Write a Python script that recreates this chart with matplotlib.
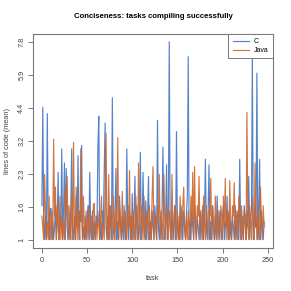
import numpy as np
import matplotlib
matplotlib.use('Agg')
import matplotlib.pyplot as plt

plt.rcParams['font.family'] = ['Liberation Sans', 'DejaVu Sans']

# Data: mean lines of code per task
c_loc = [
    1.6, 4.45, 1.3, 1.0, 1.4, 1.0, 4.2, 1.2, 1.0, 1.5,
    1.55, 1.0, 1.3, 1.0, 1.2, 1.6, 1.0, 1.3, 2.35, 1.0,
    1.4, 1.2, 3.0, 1.0, 1.5, 2.6, 1.0, 2.45, 1.2, 1.0,
    1.3, 1.0, 1.6, 3.0, 1.2, 1.0, 1.4, 1.0, 1.8, 1.2,
    2.8, 1.0, 1.5, 1.3, 3.1, 1.0, 1.2, 1.0, 1.4, 1.0,
    1.3, 1.6, 1.0, 2.35, 1.2, 1.0, 1.5, 1.0, 1.3, 1.0,
    1.4, 1.2, 3.05, 4.1, 1.0, 1.3, 1.0, 1.5, 1.2, 2.4,
    3.85, 1.2, 1.0, 1.4, 1.0, 1.6, 1.3, 1.0, 4.85, 1.2,
    1.0, 1.5, 2.45, 1.0, 1.3, 1.0, 1.8, 1.2, 1.0, 1.4,
    1.0, 1.6, 1.2, 1.0, 3.0, 1.3, 1.0, 1.5, 1.2, 1.0,
    1.85, 1.0, 1.4, 2.25, 1.0, 1.6, 1.2, 1.0, 1.5, 2.9,
    1.0, 1.3, 2.35, 1.2, 1.0, 1.7, 1.0, 1.4, 2.25, 1.0,
    1.3, 1.0, 1.5, 1.2, 1.0, 1.6, 1.3, 1.0, 3.95, 1.2,
    1.0, 1.4, 1.0, 1.5, 3.05, 1.2, 1.0, 1.3, 2.55, 1.0,
    1.4, 7.8, 1.2, 1.0, 1.5, 1.0, 1.3, 1.6, 1.0, 3.55,
    1.2, 1.0, 1.4, 1.0, 1.6, 1.3, 1.0, 1.5, 1.2, 1.0,
    1.4, 1.8, 6.9, 1.0, 1.3, 1.0, 1.5, 1.2, 1.0, 1.6,
    1.3, 1.0, 1.4, 1.2, 1.0, 1.5, 1.0, 1.3, 1.6, 1.0,
    1.4, 2.7, 1.2, 1.0, 1.5, 2.55, 1.0, 1.3, 1.0, 1.6,
    1.2, 1.0, 1.4, 1.0, 1.8, 1.3, 1.0, 1.5, 1.2, 1.0,
    1.4, 1.6, 1.0, 1.3, 1.2, 1.8, 1.0, 1.5, 1.0, 1.3,
    1.0, 1.4, 1.2, 1.0, 1.6, 1.0, 1.3, 1.5, 1.0, 2.7,
    1.2, 1.0, 1.4, 1.0, 1.6, 1.3, 1.0, 1.5, 1.2, 2.25,
    1.0, 1.4, 1.5, 6.9, 1.0, 1.3, 1.6, 1.2, 6.0, 1.0,
    1.4, 2.7, 1.0, 1.5, 1.2, 1.0, 1.3,
]
java_loc = [
    1.4, 1.2, 1.0, 2.3, 1.5, 1.0, 1.3, 1.0, 1.8, 1.0,
    1.2, 1.5, 1.0, 3.3, 1.4, 2.0, 1.0, 1.6, 1.2, 1.0,
    1.8, 1.0, 1.4, 1.0, 1.3, 1.0, 2.0, 1.5, 2.25, 1.0,
    1.6, 1.2, 1.0, 1.8, 1.0, 3.2, 1.3, 1.0, 2.0, 1.0,
    1.5, 1.2, 1.0, 3.0, 1.4, 1.0, 1.8, 1.2, 1.0, 1.5,
    1.0, 1.3, 1.6, 1.0, 1.2, 1.4, 1.0, 1.6, 1.65, 1.0,
    1.3, 1.0, 1.5, 1.2, 1.0, 1.4, 1.8, 1.0, 1.3, 1.0,
    2.0, 3.5, 1.2, 1.0, 2.3, 1.0, 1.6, 1.2, 1.0, 1.8,
    1.4, 1.0, 1.5, 1.2, 3.35, 1.0, 1.6, 1.3, 1.0, 1.9,
    1.2, 1.0, 1.5, 1.3, 1.0, 1.6, 1.2, 2.4, 1.0, 1.4,
    1.0, 1.5, 1.2, 1.0, 1.8, 1.3, 1.0, 2.6, 1.2, 1.0,
    1.6, 1.4, 1.0, 1.8, 1.2, 1.0, 1.5, 1.3, 1.0, 1.6,
    1.2, 1.0, 1.8, 2.5, 1.0, 1.4, 1.2, 1.0, 1.6, 1.3,
    2.3, 1.0, 1.5, 1.2, 1.0, 2.3, 1.4, 1.0, 1.6, 1.2,
    1.0, 1.5, 1.3, 1.0, 2.3, 1.2, 1.0, 1.6, 1.4, 1.0,
    1.5, 1.2, 1.0, 1.8, 1.3, 1.0, 1.6, 2.0, 1.2, 1.0,
    1.4, 1.0, 1.5, 1.2, 1.0, 1.8, 1.3, 2.35, 1.0, 2.5,
    1.2, 1.0, 1.6, 1.4, 2.25, 1.0, 1.5, 1.2, 1.0, 1.8,
    1.3, 1.0, 1.6, 1.2, 1.0, 1.5, 1.4, 2.2, 1.0, 1.6,
    1.2, 1.0, 1.8, 1.3, 1.0, 1.5, 1.2, 1.0, 1.6, 1.4,
    1.0, 1.8, 1.2, 2.2, 1.0, 1.5, 1.3, 1.0, 2.15, 1.2,
    1.0, 1.6, 1.4, 2.1, 1.0, 1.5, 1.2, 1.0, 1.8, 1.3,
    1.0, 1.6, 1.2, 1.0, 1.5, 1.4, 1.0, 4.25, 1.2, 1.0,
    1.6, 1.3, 1.0, 1.8, 1.2, 1.0, 2.6, 1.4, 1.0, 1.5,
    1.2, 1.0, 2.0, 1.3, 1.0, 1.6, 1.2,
]
ytick_labels = ['1', '1.6', '2.3', '3.2', '4.4', '5.9', '7.8']
xticks = [0, 50, 100, 150, 200, 250]

tasks = np.arange(len(c_loc))

# axis transform used by the original chart
OFF = 1.2
fwd = lambda v: np.log(np.asarray(v) + OFF)
inv = lambda t: np.exp(t) - OFF

fig = plt.figure(figsize=(2.91, 2.91), dpi=100)
ax = fig.add_axes([33 / 291, 43.5 / 291, 240 / 291, 213.5 / 291])
ax.set_yscale('function', functions=(fwd, inv))

ax.plot(tasks, c_loc, color='#4176c4', lw=0.85, alpha=0.9, label='C')
ax.plot(tasks, java_loc, color='#d0662a', lw=0.85, alpha=0.9, label='Java')

# R-style limits (4% padding)
xmin, xmax = tasks.min(), tasks.max()
xp = 0.04 * (xmax - xmin)
ax.set_xlim(xmin - xp, xmax + xp)
t0, t1 = fwd(1.0), fwd(7.8)
tp = 0.04 * (t1 - t0)
ax.set_ylim(inv(t0 - tp), inv(t1 + tp))

ax.set_yticks(inv(np.linspace(t0, t1, len(ytick_labels))))
ax.set_yticklabels(ytick_labels, rotation=90, va='center')
ax.yaxis.set_minor_locator(matplotlib.ticker.NullLocator())
ax.set_xticks(xticks)

for s in ax.spines.values():
    s.set_color('#777777')
    s.set_linewidth(0.8)
ax.tick_params(length=3.5, width=0.7, color='#777777', labelsize=5.3,
               labelcolor='#444444')
ax.tick_params(axis='y', pad=2)
ax.tick_params(axis='x', pad=3)

ax.set_xlabel('task', fontsize=5.3, color='#444444', labelpad=8)
ax.set_ylabel('lines of code (mean)', fontsize=5.3, color='#444444', labelpad=5)
fig.text(153 / 291, 1 - 17 / 291, 'Conciseness: tasks compiling successfully',
         ha='center', va='center', fontsize=5.6, fontweight='bold')

leg = ax.legend(loc='upper right', fontsize=5, fancybox=False, framealpha=1,
                borderaxespad=0, handlelength=2.3, borderpad=0.6,
                labelspacing=0.3, handletextpad=0.8)
leg.get_frame().set_edgecolor('#777777')
leg.get_frame().set_linewidth(0.7)

fig.savefig('out.png', dpi=100)
